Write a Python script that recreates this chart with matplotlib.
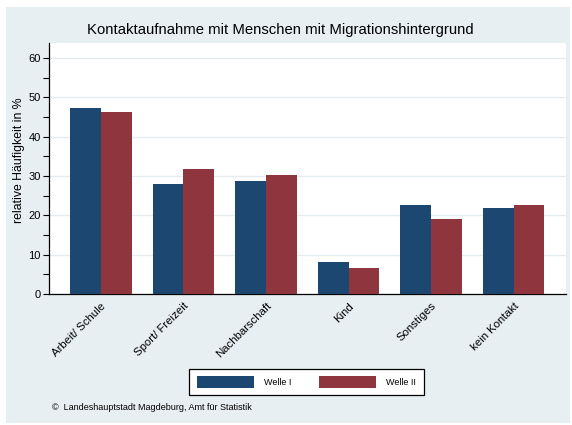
import matplotlib
matplotlib.use("Agg")
import matplotlib.pyplot as plt
from matplotlib.patches import Rectangle
import numpy as np

plt.rcParams['font.family'] = ['Liberation Sans', 'DejaVu Sans']

categories = ["Arbeit/ Schule", "Sport/ Freizeit", "Nachbarschaft", "Kind", "Sonstiges", "kein Kontakt"]
welle1 = [47.3, 28.0, 28.7, 8.1, 22.6, 21.9]
welle2 = [46.2, 31.8, 30.3, 6.6, 19.1, 22.5]
series_names = ["Welle I", "Welle II"]
title = "Kontaktaufnahme mit Menschen mit Migrationshintergrund"
ylabel = "relative Häufigkeit in %"
source = "©  Landeshauptstadt Magdeburg, Amt für Statistik"

c1 = "#1c4770"
c2 = "#8f353e"
bg = "#e8eff2"

W, H = 572, 425
fig = plt.figure(figsize=(W/100, H/100), dpi=100)
fig.patch.set_facecolor("white")
fig.patches.append(Rectangle((6/W, 2/H), 564/W, 416/H, transform=fig.transFigure,
                             facecolor=bg, edgecolor="none", zorder=-10))

ax = fig.add_axes([49/W, (H-294)/H, (566-49)/W, (294-43)/H])
ax.set_facecolor("white")
x = np.arange(len(categories))
bw = 0.375
ax.bar(x - bw/2, welle1, bw, color=c1, label=series_names[0], zorder=3)
ax.bar(x + bw/2, welle2, bw, color=c2, label=series_names[1], zorder=3)

ax.set_xlim(-0.63, 5.636)
ax.set_ylim(0, 63.8)
ax.set_yticks(range(0, 61, 10))
ax.set_yticks(range(5, 61, 10), minor=True)
ax.tick_params(axis='y', which='both', direction='out', length=4, width=0.8, labelsize=8, pad=2)
ax.grid(axis='y', color="#e4ecf0", linewidth=1, zorder=0)
ax.set_xticks(x)
ax.set_xticklabels(categories, rotation=45, ha='right', rotation_mode='anchor', fontsize=8.2)
ax.tick_params(axis='x', length=0, pad=5)
for s in ['top', 'right']:
    ax.spines[s].set_visible(False)
ax.spines['left'].set_linewidth(0.9)
ax.spines['bottom'].set_linewidth(0.9)
ax.set_ylabel(ylabel, fontsize=8.8)
ax.yaxis.set_label_coords((25-49)/517, (294-160)/251)

fig.text(280/W, 1 - 30/H, title, ha='center', va='center', fontsize=10.7)

leg = fig.legend(loc='center', bbox_to_anchor=((193+420)/2/W, 1 - 382/H), ncol=2,
                 fontsize=6.5, handlelength=6.3, handleheight=1.6, columnspacing=3.0,
                 handletextpad=1.2, fancybox=False, edgecolor='black', framealpha=1,
                 borderpad=0.85)
leg.get_frame().set_linewidth(0.9)

fig.text(52/W, 1 - 407/H, source, ha='left', va='center', fontsize=6.5)

fig.savefig("out.png", dpi=100, facecolor=fig.get_facecolor())
